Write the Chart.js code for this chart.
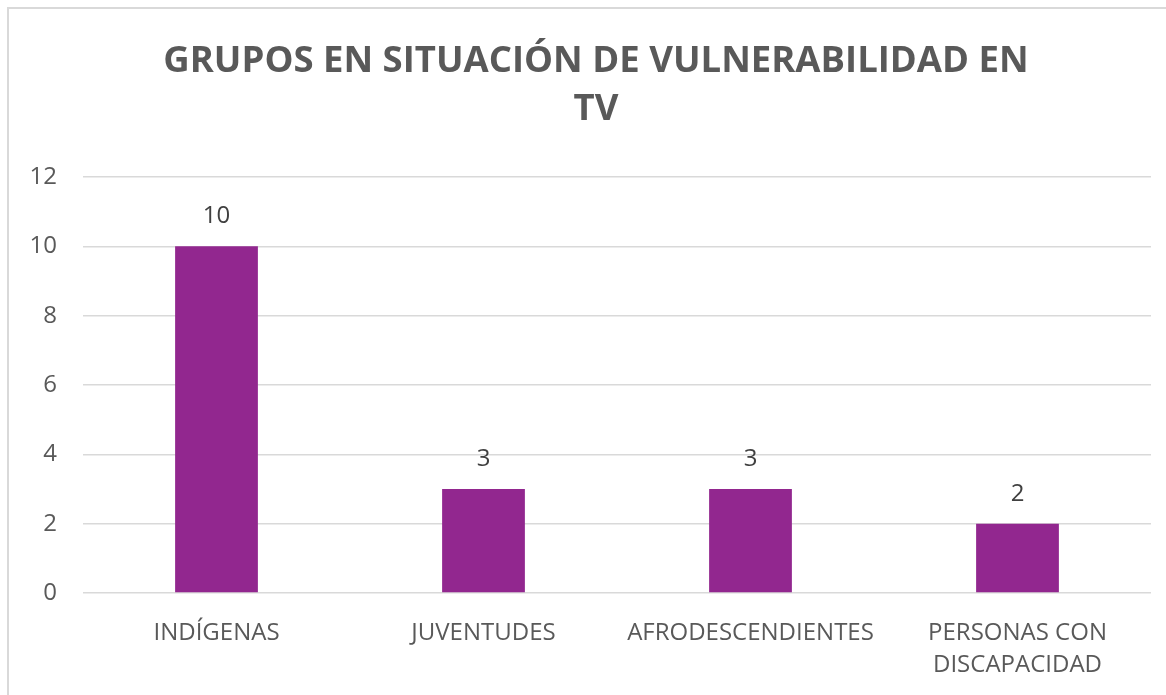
<!DOCTYPE html>
<html>
<head>
<meta charset="utf-8">
<script src="https://cdn.jsdelivr.net/npm/chart.js@4/dist/chart.umd.min.js"></script>
<style>
    body   { margin: 0; background: #fff; }
    .wrap  { position: relative; width: 1166px; height: 695px; overflow: hidden; }
    .frame { position: absolute; left: 7px; top: 7px; width: 1200px; height: 720px; border: 2px solid #d9d9d9; }
    canvas { position: absolute; left: 0; top: 0; }
</style>
</head>
<body>
<div class="wrap">
    <div class="frame"></div>
    <canvas id="chart" width="1166" height="695"></canvas>
</div>
<script>
const titleLines = ['GRUPOS EN SITUACIÓN DE VULNERABILIDAD EN', 'TV']
const categories = ['INDÍGENAS', 'JUVENTUDES', 'AFRODESCENDIENTES', ['PERSONAS CON', 'DISCAPACIDAD']]
const values     = [10, 3, 3, 2]
const yTicks     = { min: 0, max: 12, step: 2 }

const font = "'Open Sans', 'DejaVu Sans', sans-serif"

// title, centred a bit right of the canvas middle like the original
const chartTitle = {
    id: 'chartTitle',
    afterDraw(chart) {
        const ctx = chart.ctx
        ctx.save()
        ctx.font = 'bold 36.5px ' + font
        ctx.fillStyle = '#595959'
        ctx.textAlign = 'center'
        ctx.textBaseline = 'middle'
        titleLines.forEach((line, i) => {
            ctx.fillText(line, 596, 62 + i * 48)
        })
        ctx.restore()
    }
}

// value labels above the bars
const barLabels = {
    id: 'barLabels',
    afterDatasetsDraw(chart) {
        const ctx = chart.ctx
        ctx.save()
        ctx.font = '24px ' + font
        ctx.fillStyle = '#404040'
        ctx.textAlign = 'center'
        ctx.textBaseline = 'middle'
        chart.getDatasetMeta(0).data.forEach((bar, i) => {
            ctx.fillText(String(values[i]), bar.x, bar.y - 30)
        })
        ctx.restore()
    }
}

new Chart(document.getElementById('chart'), {
    type: 'bar',
    data: {
        labels: categories,
        datasets: [{
            data: values,
            backgroundColor: '#92278F',
            barPercentage: 1,
            categoryPercentage: 0.31
        }]
    },
    options: {
        responsive: false,
        animation: false,
        layout: { padding: { left: 0, right: 15, top: 177, bottom: 0 } },
        plugins: {
            legend: { display: false },
            tooltip: { enabled: false },
            title: { display: false }
        },
        scales: {
            x: {
                grid: { display: false },
                border: { display: false },
                ticks: {
                    color: '#595959',
                    font: { family: font, size: 24, lineHeight: 1.33 },
                    padding: 16,
                    maxRotation: 0,
                    autoSkip: false
                },
                afterFit(scale) { scale.height = 102 }
            },
            y: {
                min: yTicks.min,
                max: yTicks.max,
                border: { display: false },
                grid: { color: '#d9d9d9', lineWidth: 1.5, drawTicks: false },
                ticks: { stepSize: yTicks.step, color: '#595959', font: { family: font, size: 24 }, padding: 26 },
                afterFit(scale) { scale.width = 83 }
            }
        }
    },
    plugins: [chartTitle, barLabels]
})
</script>
</body>
</html>
